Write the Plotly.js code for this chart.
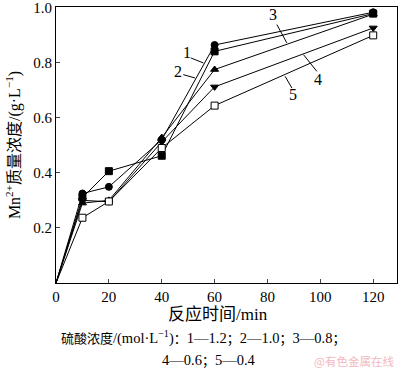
<!DOCTYPE html>
<html>
<head>
<meta charset="utf-8">
<script src="https://cdn.plot.ly/plotly-3.0.1.min.js"></script>
<style>html,body{margin:0;padding:0;background:#fff;}#chart{width:400px;height:373px;}</style>
</head>
<body>
<div id="chart"></div>
<script>
const times = [0, 10, 20, 40, 60, 120];
const s1 = [0, 0.31, 0.406, 0.462, 0.841, 0.978]; // 1.2 mol/L, filled square
const s2 = [0, 0.325, 0.349, 0.52, 0.864, 0.983]; // 1.0, filled circle
const s3 = [0, 0.29, 0.30, 0.528, 0.775, 0.976];  // 0.8, triangle up
const s4 = [0, 0.30, 0.295, 0.512, 0.712, 0.926]; // 0.6, triangle down
const s5 = [0, 0.237, 0.296, 0.49, 0.644, 0.899]; // 0.4, open square
const seriesNames = ['1', '2', '3', '4', '5'];
const xTicks = [0, 20, 40, 60, 80, 100, 120];
const yTicks = [0.2, 0.4, 0.6, 0.8, 1.0];
const yTickText = ['0.2', '0.4', '0.6', '0.8', '1.0'];

const FONT = 'Liberation Serif, Times New Roman, Noto Sans CJK SC, serif';
const symbols = ['square', 'circle', 'triangle-up', 'triangle-down', 'square'];
const fills = ['#000', '#000', '#000', '#000', '#fff'];
const all = [s1, s2, s3, s4, s5];
const traces = [];
all.forEach((ys, i) => {
  traces.push({
    x: times, y: ys, name: seriesNames[i], type: 'scatter', mode: 'lines',
    line: {color: '#000', width: 1}, showlegend: false, hoverinfo: 'skip'
  });
});
all.forEach((ys, i) => {
  traces.push({
    x: times.slice(1), y: ys.slice(1), name: seriesNames[i], type: 'scatter', mode: 'markers',
    marker: {symbol: symbols[i], size: 7, color: fills[i], opacity: 1,
             line: {color: '#000', width: 1}},
    showlegend: false, cliponaxis: false
  });
});

const px2x = p => (p - 56) / (317 / 120);
const py2y = p => (283 - p) / 275;
const labels = [
  {t: '1', tx: 187, ty: 53, ax0: 190.7, ay0: 58.3, ax1: 203.3, ay1: 63.3},
  {t: '2', tx: 177.5, ty: 72, ax0: 183.3, ay0: 75, ax1: 195, ay1: 78.3},
  {t: '3', tx: 272.7, ty: 15, ax0: 276.7, ay0: 25, ax1: 286.7, ay1: 43.3},
  {t: '4', tx: 318.3, ty: 80, ax0: 303.3, ay0: 55, ax1: 316.7, ay1: 71.7},
  {t: '5', tx: 293.3, ty: 95, ax0: 285, ay0: 76.7, ax1: 291.7, ay1: 88.3}
];

const plotH = 373 - 7 - 90, plotW = 400 - 56 - 3;
const pyPaper = p => (373 - 90 - p) / plotH;
const pxPaper = p => (p - 56) / plotW;
const cjk = s => '<span style="font-size:13px">' + s + '</span>';

const annotations = labels.map(l => ({
  x: px2x(l.tx), y: py2y(l.ty), xref: 'x', yref: 'y', text: l.t, showarrow: false,
  font: {family: FONT, size: 16, color: '#000'}
}));
annotations.push(
  {x: pxPaper(218), y: pyPaper(314), xref: 'paper', yref: 'paper', xanchor: 'center', yanchor: 'middle',
   text: '反应时间/min', showarrow: false, font: {family: FONT, size: 17, color: '#000'}},
  {x: pxPaper(203), y: pyPaper(337), xref: 'paper', yref: 'paper', xanchor: 'center', yanchor: 'middle',
   showarrow: false,
   text: cjk('硫酸浓度') + '/(mol·L<sup>−1</sup>)' + cjk('：') + '1—1.2' + cjk('；') + '2—1.0' + cjk('；') + '3—0.8' + cjk('；'),
   font: {family: FONT, size: 14.5, color: '#000'}},
  {x: pxPaper(209), y: pyPaper(360), xref: 'paper', yref: 'paper', xanchor: 'center', yanchor: 'middle',
   showarrow: false, text: '4—0.6' + cjk('；') + '5—0.4',
   font: {family: FONT, size: 14.5, color: '#000'}},
  {x: pxPaper(396), y: pyPaper(361), xref: 'paper', yref: 'paper', xanchor: 'right', yanchor: 'middle',
   showarrow: false, text: '@有色金属在线',
   font: {family: 'Noto Sans CJK SC, sans-serif', size: 11.5, color: '#f2b8c0'}}
);
const shapes = labels.map(l => ({
  type: 'line', xref: 'x', yref: 'y',
  x0: px2x(l.ax0), y0: py2y(l.ay0), x1: px2x(l.ax1), y1: py2y(l.ay1),
  line: {color: '#000', width: 1}
}));

const layout = {
  width: 400, height: 373,
  margin: {l: 56, r: 3, t: 7, b: 90},
  paper_bgcolor: '#fff', plot_bgcolor: '#fff',
  font: {family: FONT, size: 15, color: '#000'},
  xaxis: {range: [0, 129], tickvals: xTicks, ticks: 'inside', ticklen: 4, tickwidth: 1,
          showline: true, mirror: true, linecolor: '#000', linewidth: 1, showgrid: false,
          zeroline: false, tickfont: {family: FONT, size: 15}, ticklabeloverflow: 'allow'},
  yaxis: {range: [0, 1.002], tickvals: yTicks, ticktext: yTickText, ticks: 'inside', ticklen: 4,
          tickwidth: 1, showline: true, mirror: true, linecolor: '#000', linewidth: 1,
          showgrid: false, zeroline: false, tickfont: {family: FONT, size: 15},
          ticklabeloverflow: 'allow',
          title: {text: 'Mn<sup>2+</sup>质量浓度/(g·L<sup>−1</sup>)', font: {family: FONT, size: 16}, standoff: 8}},
  annotations: annotations,
  shapes: shapes
};

Plotly.newPlot('chart', traces, layout, {displayModeBar: false, staticPlot: true});
</script>
</body>
</html>
